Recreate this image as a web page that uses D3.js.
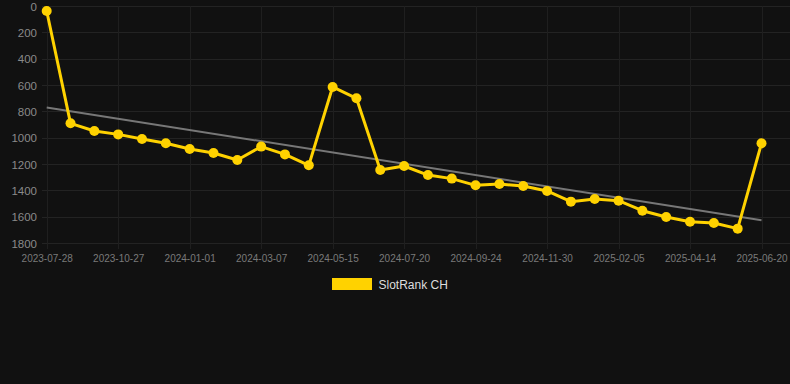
<!DOCTYPE html>
<html><head><meta charset="utf-8">
<script src="https://cdn.jsdelivr.net/npm/d3@7/dist/d3.min.js"></script>
<style>
html,body{margin:0;padding:0;background:#111111;}
svg{display:block;font-family:"Liberation Sans",Arial,sans-serif;}
</style></head>
<body><svg id="c" width="790" height="384"></svg>
<script>
const dates = ["2023-07-28","2023-08-28","2023-09-27","2023-10-27","2023-11-18","2023-12-10","2024-01-01","2024-01-23","2024-02-14","2024-03-07","2024-03-30","2024-04-22","2024-05-15","2024-06-06","2024-06-28","2024-07-20","2024-08-11","2024-09-02","2024-09-24","2024-10-16","2024-11-08","2024-11-30","2024-12-22","2025-01-14","2025-02-05","2025-02-28","2025-03-23","2025-04-14","2025-05-06","2025-05-28","2025-06-20"];
const ranks = [38,891,949,975,1010,1043,1086,1116,1170,1068,1127,1210,615,701,1246,1215,1284,1311,1362,1352,1367,1405,1486,1466,1479,1555,1603,1638,1648,1691,1043];
const xTickLabels = ["2023-07-28","2023-10-27","2024-01-01","2024-03-07","2024-05-15","2024-07-20","2024-09-24","2024-11-30","2025-02-05","2025-04-14","2025-06-20"];
const yTicks = [0,200,400,600,800,1000,1200,1400,1600,1800];
const seriesName = "SlotRank CH";

const svg = d3.select("#c");
const x = d3.scalePoint().domain(dates).range([46.7, 761.5]);
const y = d3.scaleLinear().domain([0,1800]).range([6, 243]);

// grid
const g = svg.append("g");
g.selectAll("line.h").data(yTicks).join("line")
  .attr("x1", 42).attr("x2", 790)
  .attr("y1", d=>Math.round(y(d))+0.5).attr("y2", d=>Math.round(y(d))+0.5)
  .attr("stroke", "#232323").attr("stroke-width",1);
g.selectAll("line.v").data(xTickLabels).join("line")
  .attr("x1", d=>Math.round(x(d))+0.5).attr("x2", d=>Math.round(x(d))+0.5)
  .attr("y1", 6).attr("y2", 249)
  .attr("stroke", "#1f1f1f").attr("stroke-width",1);

// y axis
const yAxis = d3.axisLeft(y).tickValues(yTicks).tickFormat(d3.format("d")).tickSize(0).tickPadding(0);
const ya = svg.append("g").attr("transform","translate(37,0)").call(yAxis);
ya.select(".domain").remove();
ya.selectAll("text").attr("fill","#8a8a8a").style("font-size","11.5px").attr("dy","0.35em");

// x axis
const xAxis = d3.axisBottom(x).tickValues(xTickLabels).tickSize(0).tickPadding(0);
const xa = svg.append("g").attr("transform","translate(0,255)").call(xAxis);
xa.select(".domain").remove();
xa.selectAll("text").attr("fill","#7a7a7a").style("font-size","10px").attr("dy","0.71em");

// trend (linear regression)
const n = ranks.length;
const mx = d3.mean(ranks,(d,i)=>i), my = d3.mean(ranks);
const slope = d3.sum(ranks,(d,i)=>(i-mx)*(d-my)) / d3.sum(ranks,(d,i)=>(i-mx)*(i-mx));
const icpt = my - slope*mx;
svg.append("line")
  .attr("x1", x(dates[0])).attr("y1", y(icpt))
  .attr("x2", x(dates[n-1])).attr("y2", y(icpt+slope*(n-1)))
  .attr("stroke","#777").attr("stroke-width",2);

// series line
const line = d3.line().x((d,i)=>x(dates[i])).y(d=>y(d));
svg.append("path").datum(ranks).attr("d",line)
  .attr("fill","none").attr("stroke","#ffd200").attr("stroke-width",3).attr("stroke-linejoin","round");
svg.selectAll("circle.p").data(ranks).join("circle")
  .attr("cx",(d,i)=>x(dates[i])).attr("cy",d=>y(d)).attr("r",5)
  .attr("fill","#ffd200");

// legend
svg.append("rect").attr("x",332).attr("y",278).attr("width",40).attr("height",12).attr("fill","#ffd200");
svg.append("text").attr("x",378.5).attr("y",288.5).text(seriesName)
  .attr("fill","#dddddd").style("font-size","12px");
</script></body></html>
